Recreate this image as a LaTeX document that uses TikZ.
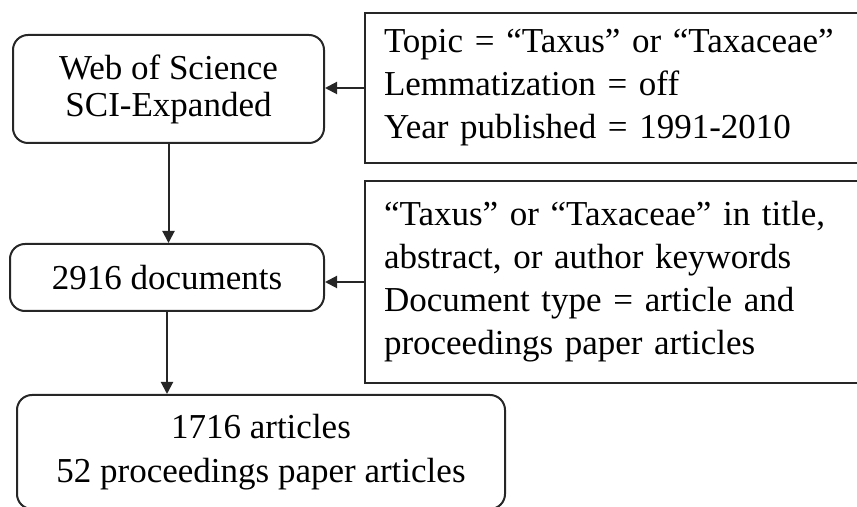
\documentclass[tikz,border=0pt]{standalone}
\usepackage{fontspec}
\setmainfont{Liberation Serif}
\usetikzlibrary{arrows.meta}

\begin{document}
\begin{tikzpicture}[x=.5pt,y=-.5pt,
  stepbox/.style={draw=black!85,line width=1pt,rounded corners=7.5pt,align=center,inner sep=0pt},
  critbox/.style={draw=black!85,line width=1pt,anchor=north west,align=left,inner xsep=9.5pt,inner ysep=0pt,text width=236pt},
  flow/.style={draw=black!85,line width=1pt,-{Triangle[length=6pt,width=6pt]}}]
\useasboundingbox (0,0) rectangle (857,507);
\clip (0,0) rectangle (857,507);
\node[stepbox,minimum width=155.5pt,minimum height=54pt,font=\fontsize{17.5}{18.5}\selectfont] (web) at (168.5,89) {Web of Science\\SCI-Expanded};
\node[stepbox,minimum width=157pt,minimum height=33.5pt,font=\fontsize{17.5}{21}\selectfont] (docs) at (167,277.5) {2916 documents};
\node[stepbox,minimum width=244pt,minimum height=57pt,font=\fontsize{17.5}{22}\selectfont] (result) at (261,452) {1716 articles\\52 proceedings paper articles};
\node[critbox,minimum height=75pt,font=\fontsize{17.5}{21.5}\selectfont] (topic) at (364,12) {Topic = “Taxus” or “Taxaceae”\\Lemmatization = off\\Year published = 1991-2010};
\node[critbox,minimum height=101pt,font=\fontsize{17.5}{21.5}\selectfont] (filter) at (364,180) {“Taxus” or “Taxaceae” in title,\\abstract, or author keywords\\Document type = article and\\proceedings paper articles};
\draw[flow] (topic.west) -- (topic.west -| web.east);
\draw[flow] (filter.west) -- (filter.west -| docs.east);
\draw[flow] (web.south) -- (web.south |- docs.north);
\draw[flow] (docs.south) -- (docs.south |- result.north);
\end{tikzpicture}
\end{document}
